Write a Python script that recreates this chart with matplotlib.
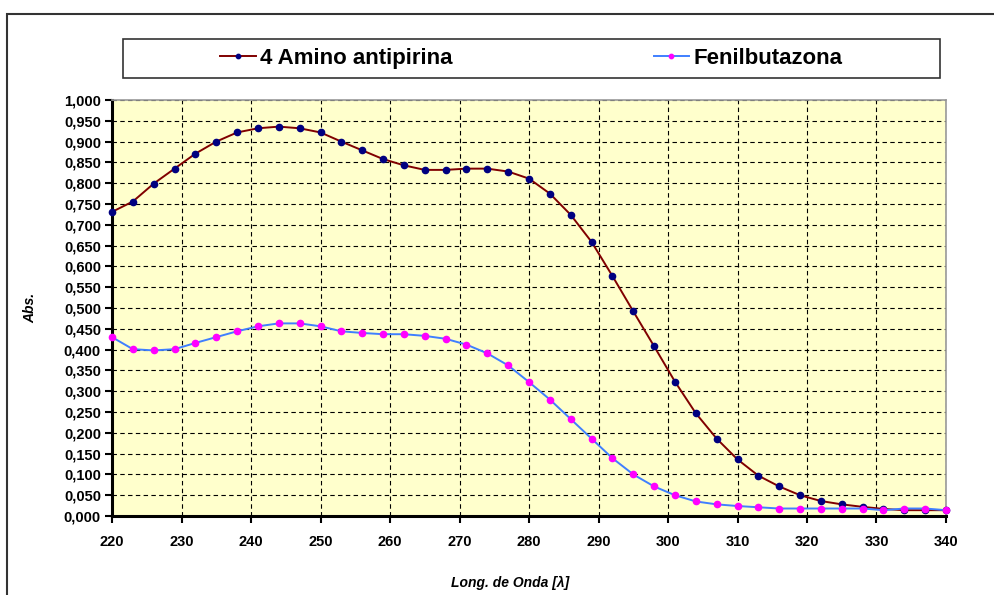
import matplotlib
matplotlib.use("Agg")
import matplotlib.pyplot as plt
from matplotlib.ticker import FuncFormatter, MultipleLocator
from matplotlib.patches import Rectangle

plt.rcParams['font.family'] = ['Liberation Sans', 'DejaVu Sans']

wavelength = list(range(220, 341, 3))
amino = [0.731, 0.756, 0.799, 0.835, 0.871, 0.900, 0.922, 0.932, 0.936, 0.932,
         0.922, 0.900, 0.879, 0.858, 0.843, 0.832, 0.832, 0.835, 0.835, 0.828,
         0.811, 0.775, 0.724, 0.659, 0.577, 0.492, 0.408, 0.323, 0.247, 0.186,
         0.136, 0.097, 0.071, 0.050, 0.036, 0.028, 0.022, 0.017, 0.014, 0.014,
         0.014]
fenil = [0.430, 0.401, 0.398, 0.401, 0.416, 0.430, 0.444, 0.456, 0.463, 0.463,
         0.456, 0.444, 0.440, 0.437, 0.437, 0.433, 0.426, 0.412, 0.391, 0.362,
         0.322, 0.280, 0.233, 0.186, 0.139, 0.100, 0.071, 0.050, 0.035, 0.028,
         0.024, 0.021, 0.018, 0.018, 0.018, 0.018, 0.018, 0.014, 0.018, 0.018,
         0.014]
series_names = ["4 Amino antipirina", "Fenilbutazona"]
x_label = "Long. de Onda [\u03bb]"
y_label = "Abs."

W, H = 995, 595
fig = plt.figure(figsize=(W / 100, H / 100), dpi=100)
fig.patch.set_facecolor('white')

# outer chart border
fig.patches.append(Rectangle((7 / W, -0.05), 1.2, 1 - 14 / H + 0.05,
                             transform=fig.transFigure, fill=False,
                             edgecolor='#333333', linewidth=1.5, zorder=0))

left, right, top, bottom = 112, 946, 100, 516
ax = fig.add_axes([left / W, 1 - bottom / H, (right - left) / W, (bottom - top) / H])
ax.set_facecolor('#FFFFCC')

ax.plot(wavelength, amino, color='#800000', linewidth=1.4, marker='o',
        markersize=4.5, markerfacecolor='#000080', markeredgecolor='#000080',
        label=series_names[0], zorder=3, clip_on=False)
ax.plot(wavelength, fenil, color='#3F7FFF', linewidth=1.4, marker='o',
        markersize=4.5, markerfacecolor='#FF00FF', markeredgecolor='#FF00FF',
        label=series_names[1], zorder=4, clip_on=False)

ax.set_xlim(220, 340)
ax.set_ylim(0, 1.0)
ax.xaxis.set_major_locator(MultipleLocator(10))
ax.yaxis.set_major_locator(MultipleLocator(0.05))
ax.yaxis.set_major_formatter(FuncFormatter(lambda v, p: f"{v:.3f}".replace('.', ',')))

ax.grid(True, color='black', linestyle=(0, (4, 3)), linewidth=0.8)
ax.set_axisbelow(True)

for s in ['left', 'bottom']:
    ax.spines[s].set_color('black')
    ax.spines[s].set_linewidth(2.2)
for s in ['top', 'right']:
    ax.spines[s].set_color('#999999')
    ax.spines[s].set_linewidth(1.2)

ax.tick_params(axis='both', direction='out', length=5, width=1.5, colors='black',
               labelsize=10.5)
ax.tick_params(axis='y', pad=3)
ax.tick_params(axis='x', pad=9)
for lab in ax.get_xticklabels() + ax.get_yticklabels():
    lab.set_fontweight('bold')

fig.text(30 / W, 1 - (top + bottom) / 2 / H, y_label, rotation=90, ha='center',
         va='center', fontsize=10, fontweight='bold', fontstyle='italic')
fig.text(510 / W, 1 - 583 / H, x_label, ha='center', va='center', fontsize=10,
         fontweight='bold', fontstyle='italic')

legend_box = (122 / W, 1 - 79 / H, (941 - 122) / W, 41 / H)
leg = fig.legend(loc='center', bbox_to_anchor=legend_box,
                 ncol=2, frameon=True, fancybox=False,
                 borderaxespad=0, handlelength=1.6, handletextpad=0.2,
                 columnspacing=9.03,
                 prop={'size': 16, 'weight': 'bold'}, markerscale=0.7)
leg.get_frame().set_edgecolor('black')
leg.get_frame().set_linewidth(1.2)

# stretch legend frame to the full box width
fig.canvas.draw()
leg._legend_box.set_width(800)

fig.savefig('out.png', dpi=100)
